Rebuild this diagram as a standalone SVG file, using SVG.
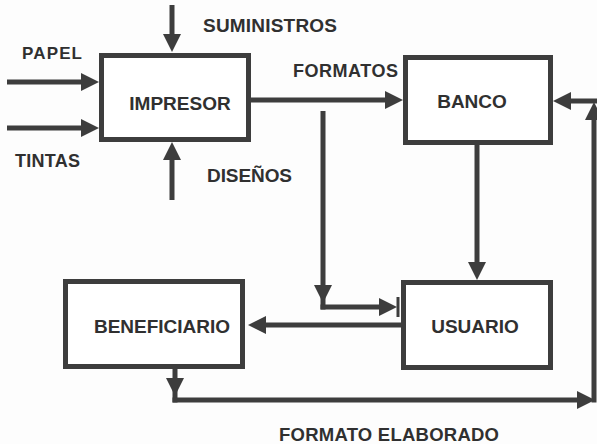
<svg xmlns="http://www.w3.org/2000/svg" width="597" height="444" viewBox="0 0 597 444">
<style>
.box{fill:#fff;stroke:#3d3d3d;stroke-width:5}
.ln{fill:none;stroke:#3d3d3d;stroke-width:5}
.arr{marker-end:url(#ah)}
.t{font-family:"Liberation Sans",Arial,sans-serif;font-weight:bold;fill:#303030}
.bt{font-size:19px;text-anchor:middle}
</style>
<defs>
<marker id="ah" viewBox="0 0 18 18" markerWidth="18" markerHeight="18" refX="8" refY="9" markerUnits="userSpaceOnUse" orient="auto">
<path d="M0,0 L18,9 L0,18 Z" fill="#3d3d3d"/>
</marker>
</defs>
<rect width="597" height="444" fill="#fdfdfd"/>
<g id="connectors">
<path class="ln arr" d="M7,82 H89"/>
<path class="ln arr" d="M7,128 H89"/>
<path class="ln arr" d="M172,5 V42"/>
<path class="ln arr" d="M172,200 V152"/>
<path class="ln arr" d="M251,100 H393"/>
<path class="ln arr" d="M323,111 V293"/>
<path class="ln" d="M323,293 V309.5"/>
<path class="ln arr" d="M320.5,307 H387"/>
<path class="ln" d="M398,297 V317" style="stroke-width:3"/>
<path class="ln arr" d="M477,145 V270"/>
<path class="ln arr" d="M401,325 H258"/>
<path class="ln arr" d="M175,369 V386"/>
<path class="ln" d="M175,386 V402.5"/>
<path class="ln arr" d="M172.5,400 H585"/>
<path class="ln arr" d="M594,402.5 V112"/>
<path class="ln arr" d="M597,101 H563"/>
</g>
<g id="impresor">
<rect class="box" x="101.5" y="55.5" width="147" height="84"/>
<text class="t bt" x="180" y="110">IMPRESOR</text>
</g>
<g id="banco">
<rect class="box" x="405.5" y="57.5" width="145" height="85"/>
<text class="t bt" x="472" y="108">BANCO</text>
</g>
<g id="beneficiario">
<rect class="box" x="65.5" y="281.5" width="177" height="85"/>
<text class="t bt" x="162" y="333">BENEFICIARIO</text>
</g>
<g id="usuario">
<rect class="box" x="403.5" y="282.5" width="147" height="85"/>
<text class="t bt" x="475" y="333">USUARIO</text>
</g>
<g id="labels">
<text class="t" x="22" y="59" font-size="17" textLength="60">PAPEL</text>
<text class="t" x="15" y="167" font-size="18" textLength="65">TINTAS</text>
<text class="t" x="203" y="32" font-size="19" textLength="134">SUMINISTROS</text>
<text class="t" x="207" y="182" font-size="19" textLength="85">DISEÑOS</text>
<text class="t" x="293" y="77" font-size="18" textLength="105">FORMATOS</text>
<text class="t" x="279" y="441" font-size="18.5" textLength="220">FORMATO ELABORADO</text>
</g>
</svg>
